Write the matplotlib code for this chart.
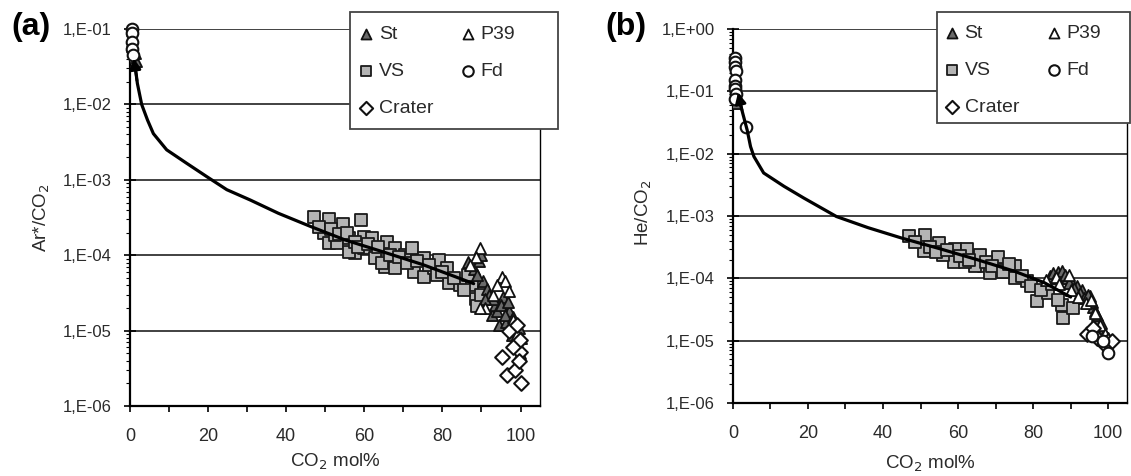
import matplotlib
matplotlib.use('Agg')
import matplotlib.pyplot as plt
import numpy as np
from matplotlib.patches import Rectangle
from matplotlib.ticker import FixedLocator, LogLocator, NullFormatter

plt.rcParams['font.family'] = ['Liberation Sans', 'DejaVu Sans']

# ---- panel (a): Ar*/CO2 ----
curve_a_x = [1.3, 1.9, 3.0, 4.5, 6.0, 9.4, 14.5, 19.7, 24.8, 30.8, 38.0, 46.3, 55.0, 65.0, 75.0, 82.0, 88.0]
curve_a_y = [3.3e-2, 1.9e-2, 1.0e-2, 6.2e-3, 4.1e-3, 2.5e-3, 1.66e-3, 1.1e-3, 7.4e-4, 5.4e-4, 3.6e-4, 2.4e-4, 1.6e-4, 1.1e-4, 7.5e-5, 5.5e-5, 4.2e-5]

vs_a_x = [47.0, 50.9, 54.5, 59.2, 49.8, 50.9, 53.0, 56.0, 57.7, 59.8, 62.0, 59.8, 65.8, 67.9, 65.4, 67.9, 70.5, 72.2,
          72.6, 75.2, 75.2, 77.8, 79.1, 81.2, 81.6, 84.6, 88.5, 87.6, 88.9, 62.8, 64.5, 56.0, 52.6,
          48.5, 51.5, 53.5, 55.5, 57.5, 58.5, 61.0, 63.5, 66.5, 69.0, 71.0, 73.5, 76.5, 78.5, 80.0, 83.0, 85.5, 86.5, 90.0]
vs_a_y = [3.2e-4, 3.0e-4, 2.6e-4, 2.9e-4, 1.95e-4, 1.44e-4, 1.44e-4, 1.67e-4, 1.06e-4, 1.75e-4, 1.67e-4, 1.23e-4, 1.5e-4,
          1.23e-4, 7.0e-5, 6.7e-5, 1.0e-4, 1.23e-4, 6.0e-5, 5.2e-5, 9.1e-5, 6.7e-5, 8.7e-5, 6.7e-5, 4.3e-5, 4.0e-5, 2.6e-5,
          4.0e-5, 2.1e-5, 9.1e-5, 7.8e-5, 1.1e-4, 1.85e-4,
          2.4e-4, 2.2e-4, 1.9e-4, 2.0e-4, 1.5e-4, 1.3e-4, 1.4e-4, 1.3e-4, 1.0e-4, 9.5e-5, 8.0e-5, 8.5e-5, 7.5e-5, 5.5e-5,
          6.0e-5, 5.0e-5, 3.5e-5, 5.5e-5, 3.0e-5]

st_a_x = [0.8, 1.2, 1.5, 86.5, 88.0, 90.5, 91.5, 92.7, 93.5, 94.5, 95.5, 96.2, 97.0, 97.9, 98.5, 99.2, 99.8,
          92.0, 93.0, 94.0, 95.0, 96.0, 96.8, 97.5, 98.2, 99.0, 99.5, 100.0, 91.0, 88.8, 89.3, 90.0]
st_a_y = [4.2e-2, 4.8e-2, 3.8e-2, 8.2e-5, 6.5e-5, 4.5e-5, 3.6e-5, 1.6e-5, 2.2e-5, 1.2e-5, 2.8e-5, 1.3e-5, 1.8e-5,
          8.7e-6, 1.0e-5, 6.5e-6, 5.0e-6,
          3.0e-5, 2.6e-5, 1.8e-5, 2.2e-5, 1.6e-5, 2.4e-5, 1.1e-5, 1.5e-5, 7.0e-6, 1.1e-5, 8.0e-6, 2.6e-5, 5.5e-5, 8.5e-5, 1.0e-4]

p39_a_x = [89.7, 88.5, 95.3, 96.0, 97.0, 87.0, 93.0, 98.0, 99.0, 91.0, 89.5, 94.0]
p39_a_y = [1.23e-4, 9.5e-5, 5.2e-5, 4.5e-5, 3.4e-5, 7.5e-5, 3.0e-5, 1.4e-5, 9.0e-6, 2.0e-5, 2.0e-5, 4.0e-5]

fd_a_x = [0.5, 0.5, 0.6, 0.5, 0.7]
fd_a_y = [1.0e-1, 8.8e-2, 6.8e-2, 5.5e-2, 4.5e-2]

crater_a_x = [95.3, 96.6, 100.0, 98.7, 99.8, 99.5, 99.9, 98.0, 97.0, 99.0]
crater_a_y = [4.5e-6, 2.6e-6, 2.0e-6, 3.0e-6, 5.2e-6, 3.9e-6, 7.5e-6, 6.0e-6, 1.0e-5, 1.2e-5]

# ---- panel (b): He/CO2 ----
curve_b_x = [1.6, 2.6, 3.8, 4.7, 5.6, 8.2, 13.6, 18.9, 27.6, 36.0, 45.1, 55.0, 65.0, 75.0, 83.0, 90.0]
curve_b_y = [7.8e-2, 4.5e-2, 2.4e-2, 1.3e-2, 9.0e-3, 4.9e-3, 3.0e-3, 1.94e-3, 9.8e-4, 6.5e-4, 4.4e-4, 3.0e-4, 2.0e-4,
             1.3e-4, 8.5e-5, 5.0e-5]

vs_b_x = [46.8, 51.3, 50.8, 54.8, 59.2, 62.3, 58.8, 56.1, 65.9, 66.8, 70.7, 70.3, 75.2, 75.2, 78.3, 81.0, 84.0, 87.6,
          88.0, 90.7, 64.5, 68.5, 61.9,
          48.5, 52.5, 54.0, 57.0, 60.5, 63.0, 67.5, 69.0, 72.0, 73.5, 77.0, 79.5, 82.0, 85.0, 86.5]
vs_b_y = [4.7e-4, 5.0e-4, 2.7e-4, 3.7e-4, 3.0e-4, 3.0e-4, 1.86e-4, 2.4e-4, 2.4e-4, 1.55e-4, 2.2e-4, 1.37e-4, 1.55e-4,
          1.0e-4, 8.9e-5, 4.3e-5, 5.8e-5, 3.7e-5, 2.3e-5, 3.3e-5, 1.55e-4, 1.2e-4, 1.86e-4,
          3.8e-4, 3.2e-4, 2.6e-4, 2.8e-4, 2.3e-4, 2.0e-4, 1.8e-4, 1.6e-4, 1.25e-4, 1.7e-4, 1.1e-4, 7.5e-5, 6.5e-5, 8.0e-5, 4.5e-5]

st_b_x = [0.8, 1.2, 84.5, 85.4, 86.5, 87.5, 88.9, 90.0, 91.6, 93.0, 95.1, 96.0, 97.3, 98.7, 100.0,
          86.0, 87.8, 88.5, 89.5, 91.0, 92.5, 93.5, 94.5, 95.8, 96.5, 97.0, 98.0, 99.0, 99.7]
st_b_y = [6.5e-2, 8.0e-2, 1.1e-4, 1.2e-4, 1.25e-4, 1.1e-4, 1.0e-4, 9.0e-5, 7.5e-5, 6.5e-5, 5.2e-5, 3.5e-5, 2.2e-5,
          1.5e-5, 1.1e-5,
          1.0e-4, 1.3e-4, 1.15e-4, 8.5e-5, 7.0e-5, 5.8e-5, 4.8e-5, 5.5e-5, 4.2e-5, 3.0e-5, 2.6e-5, 1.9e-5, 1.3e-5, 1.0e-5]

p39_b_x = [83.5, 86.0, 87.0, 89.5, 90.0, 92.0, 94.0, 95.5, 96.5, 97.8, 99.2]
p39_b_y = [9.5e-5, 1.05e-4, 8.0e-5, 1.15e-4, 6.5e-5, 5.0e-5, 4.0e-5, 4.5e-5, 2.8e-5, 1.8e-5, 1.3e-5]

fd_b_x = [0.5, 0.6, 0.5, 0.7, 0.5, 0.6, 0.5, 0.7, 0.6, 3.4, 95.6, 100.0, 98.7]
fd_b_y = [0.34, 0.30, 0.25, 0.21, 0.15, 0.12, 0.107, 0.09, 0.074, 0.027, 1.17e-5, 6.3e-6, 1.0e-5]

crater_b_x = [94.3, 100.0, 97.0, 99.0, 96.0, 101.0]
crater_b_y = [1.3e-5, 1.0e-5, 1.1e-5, 9.0e-6, 1.6e-5, 1.0e-5]

x_ticks = [0, 20, 40, 60, 80, 100]
y_ticks_a = [1e-6, 1e-5, 1e-4, 1e-3, 1e-2, 1e-1]
y_labels_a = ['1,E-06', '1,E-05', '1,E-04', '1,E-03', '1,E-02', '1,E-01']
y_ticks_b = [1e-6, 1e-5, 1e-4, 1e-3, 1e-2, 1e-1, 1e0]
y_labels_b = ['1,E-06', '1,E-05', '1,E-04', '1,E-03', '1,E-02', '1,E-01', '1,E+00']

fig = plt.figure(figsize=(11.31, 4.76), dpi=100)
ax_a = fig.add_axes([0.1149, 0.147, 0.3626, 0.792])
ax_b = fig.add_axes([0.648, 0.1534, 0.3484, 0.7857])

ms = 64
ew = 1.3


def draw(ax, d, yt, yl, ylab):
    (cx, cy, vx, vy, sx, sy, px, py, fx, fy, crx, cry) = d
    ax.set_yscale('log')
    ax.set_xlim(0, 105)
    ax.set_ylim(yt[0], yt[-1])
    for t in yt:
        ax.axhline(t, color='#333333', lw=1.3, zorder=1)
    vs = ax.scatter(vx, vy, s=ms, marker='s', facecolor='#b4b4b4', edgecolor='#1a1a1a', lw=ew, zorder=3, label='VS')
    st = ax.scatter(sx, sy, s=ms, marker='^', facecolor='#6a6a6a', edgecolor='#111111', lw=ew, zorder=4, label='St')
    p39 = ax.scatter(px, py, s=ms, marker='^', facecolor='white', edgecolor='#111111', lw=ew, zorder=4, label='P39')
    fd = ax.scatter(fx, fy, s=70, marker='o', facecolor='white', edgecolor='#111111', lw=1.5, zorder=5,
                    label='Fd', clip_on=False)
    cr = ax.scatter(crx, cry, s=56, marker='D', facecolor='white', edgecolor='#111111', lw=1.5, zorder=4, label='Crater')
    ax.plot(cx[::-1], cy[::-1], color='black', lw=2.3, zorder=6, solid_capstyle='round')
    ax.annotate('', xy=(cx[0] - 0.4, cy[0] * 1.35), xytext=(cx[1], cy[1]),
                arrowprops=dict(arrowstyle='-|>', color='black', lw=2.0, mutation_scale=16), zorder=6)

    ax.yaxis.set_major_locator(FixedLocator(yt))
    ax.set_yticklabels(yl)
    ax.yaxis.set_minor_locator(LogLocator(base=10, subs=np.arange(2, 10), numticks=20))
    ax.yaxis.set_minor_formatter(NullFormatter())
    ax.set_xticks(x_ticks)
    ax.set_xticks([10, 30, 50, 70, 90], minor=True)
    ax.tick_params(axis='y', which='major', direction='inout', length=8, width=1.2, labelsize=12,
                   labelcolor='#2a2a2a', pad=9)
    ax.tick_params(axis='y', which='minor', direction='out', length=3, width=0.8)
    ax.tick_params(axis='x', which='both', direction='out', length=4, width=1.2, labelsize=13,
                   labelcolor='#2a2a2a', pad=12)
    ax.spines['top'].set_visible(False)
    ax.spines['left'].set_linewidth(1.6)
    ax.spines['bottom'].set_linewidth(1.6)
    ax.spines['right'].set_linewidth(1.0)
    ax.set_ylabel(ylab, fontsize=13.5, color='#2a2a2a')
    ax.set_xlabel('CO$_2$ mol%', fontsize=13.5, color='#2a2a2a')
    return [st, vs, cr, p39, fd]


h_a = draw(ax_a, (curve_a_x, curve_a_y, vs_a_x, vs_a_y, st_a_x, st_a_y, p39_a_x, p39_a_y,
                  fd_a_x, fd_a_y, crater_a_x, crater_a_y), y_ticks_a, y_labels_a, 'Ar*/CO$_2$')
h_b = draw(ax_b, (curve_b_x, curve_b_y, vs_b_x, vs_b_y, st_b_x, st_b_y, p39_b_x, p39_b_y,
                  fd_b_x, fd_b_y, crater_b_x, crater_b_y), y_ticks_b, y_labels_b, 'He/CO$_2$')

ax_a.yaxis.set_label_coords(-0.19, 0.5)
ax_b.yaxis.set_label_coords(-0.20, 0.51)
ax_a.xaxis.set_label_coords(0.5, -0.12)
ax_b.xaxis.set_label_coords(0.5, -0.135)

# legend boxes (frame drawn separately so it can be wider than the entries)
for (x0, y0, w, h) in [(0.3095, 0.729, 0.1839, 0.2458), (0.8285, 0.7416, 0.1706, 0.2332)]:
    fig.patches.append(Rectangle((x0, y0), w, h, transform=fig.transFigure, facecolor='white',
                                 edgecolor='#444444', lw=1.3, zorder=5))

for h, anchor in [(h_a, (0.3185, 0.946)), (h_b, (0.8365, 0.948))]:
    leg = fig.legend(handles=h, ncol=2, loc='upper left', bbox_to_anchor=anchor, bbox_transform=fig.transFigure,
                     fontsize=14, frameon=False, handlelength=0.6, handletextpad=0.35, columnspacing=1.5,
                     labelspacing=1.0, borderpad=0.0, borderaxespad=0.0, scatterpoints=1, markerscale=0.9)
    leg.set_zorder(6)
    for t in leg.get_texts():
        t.set_color('#2a2a2a')

fig.text(0.0274, 0.943, '(a)', fontsize=23, fontweight='bold', ha='center', va='center')
fig.text(0.5535, 0.943, '(b)', fontsize=23, fontweight='bold', ha='center', va='center')

fig.savefig('out.png', dpi=100)
